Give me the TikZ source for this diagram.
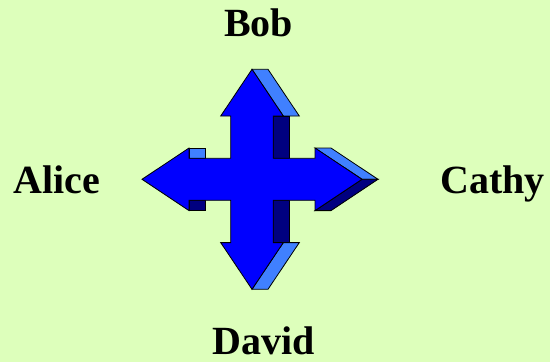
\documentclass[tikz,border=0pt]{standalone}
\usepackage{fontspec}
\setmainfont{Liberation Serif}
\definecolor{bg}{RGB}{221,255,187}
\definecolor{frontblue}{RGB}{0,0,255}
\definecolor{lightblue}{RGB}{64,128,255}
\definecolor{darkblue}{RGB}{0,0,128}
\begin{document}
\begin{tikzpicture}[x=1pt,y=-1pt,
  face/.style={draw=black,line width=0.8pt,line join=miter},
  lbl/.style={anchor=base,inner sep=0pt,font=\bfseries\fontsize{40}{48}\selectfont}]
\fill[bg] (0,0) rectangle (550,362);
\useasboundingbox (0,0) rectangle (550,362);
% extruded faces
\draw[face,fill=lightblue] (252,69.3) -- (268,69.3) -- (299.3,116) -- (283.3,116) -- cycle;
\draw[face,fill=darkblue] (273.3,116) rectangle (289.3,158.3);
\draw[face,fill=lightblue] (315,148) -- (331,148) -- (378,179.3) -- (362,179.3) -- cycle;
\draw[face,fill=darkblue] (362,179.3) -- (378,179.3) -- (331,210.6) -- (315,210.6) -- cycle;
\draw[face,fill=darkblue] (273.3,200.3) rectangle (289.3,242.6);
\draw[face,fill=lightblue] (283.3,242.6) -- (299.3,242.6) -- (268,289.3) -- (252,289.3) -- cycle;
\draw[face,fill=lightblue] (189,148) rectangle (205,158.3);
\draw[face,fill=darkblue] (189,200.3) rectangle (205,210.6);
% front face
\draw[face,fill=frontblue] (252,69.3) -- (283.3,116) -- (273.3,116) -- (273.3,158.3)
  -- (315,158.3) -- (315,148) -- (362,179.3) -- (315,210.6) -- (315,200.3)
  -- (273.3,200.3) -- (273.3,242.6) -- (283.3,242.6) -- (252,289.3)
  -- (220.7,242.6) -- (230.7,242.6) -- (230.7,200.3) -- (189,200.3)
  -- (189,210.6) -- (142,179.3) -- (189,148) -- (189,158.3)
  -- (230.7,158.3) -- (230.7,116) -- (220.7,116) -- cycle;
% labels
\node[lbl] (bob) at (258.7,36.7) {Bob};
\node[lbl] (alice) at (56.7,193.3) {Alice};
\node[lbl] (cathy) at (492.5,193.3) {Cathy};
\node[lbl] (david) at (263.3,354.7) {David};
\end{tikzpicture}
\end{document}
